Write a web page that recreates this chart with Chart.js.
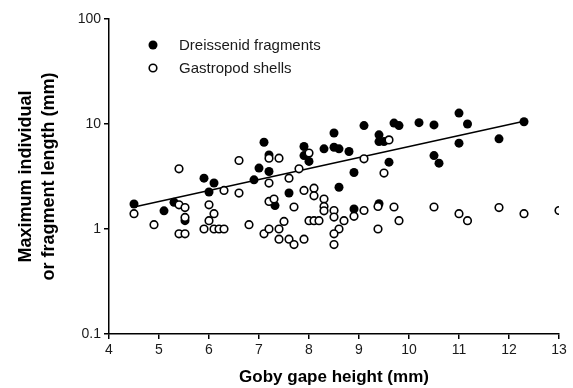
<!DOCTYPE html>
<html>
<head>
<meta charset="utf-8">
<script src="https://cdn.jsdelivr.net/npm/chart.js@4"></script>
<style>
    html, body { margin: 0; padding: 0; background: #fff; }
    #wrap { width: 573px; height: 388px; }
</style>
</head>
<body>
<div id="wrap"><canvas id="goby-chart" width="573" height="388"></canvas></div>
<script>
// Goby gape height (mm) vs max fragment length (mm)
const dreissenidX = [4.5, 5.1, 5.3, 5.52, 5.9, 6.1, 6.0, 7.1, 7.2, 7.0, 7.2, 6.9, 7.32, 7.6, 7.9, 7.9, 8.0, 8.3, 8.5, 8.5, 8.6, 8.8, 9.1, 9.4, 9.4, 8.9, 8.6, 8.9, 9.4, 9.5, 9.7, 9.8, 10.2, 10.5, 11.0, 11.17, 11.0, 10.5, 10.6, 9.6, 11.8, 12.3];
const dreissenidY = [1.73, 1.49, 1.8, 1.2, 3.05, 2.74, 2.25, 6.7, 5.08, 3.8, 3.53, 2.94, 1.67, 2.2, 6.1, 5.0, 4.4, 5.8, 8.2, 6.0, 5.8, 5.47, 9.66, 7.88, 6.8, 3.45, 2.5, 1.55, 1.74, 6.8, 10.2, 9.66, 10.3, 9.8, 12.7, 10.0, 6.57, 5.0, 4.24, 4.33, 7.22, 10.5];

const gastropodX = [4.5, 4.9, 5.4, 5.4, 5.52, 5.52, 5.4, 5.52, 6.6, 7.2, 7.4, 6.3, 6.6, 7.2, 6.0, 6.1, 6.0, 5.9, 6.1, 6.2, 6.3, 6.8, 7.2, 7.3, 7.1, 7.2, 7.4, 7.4, 7.5, 7.6, 7.6, 7.8, 8.0, 9.1, 7.9, 8.1, 8.1, 7.7, 8.3, 8.3, 8.3, 8.5, 8.5, 9.1, 8.9, 8.7, 8.0, 8.1, 8.2, 8.6, 8.5, 7.9, 7.7, 8.5, 9.38, 9.38, 9.6, 9.5, 9.7, 10.5, 11.0, 11.17, 9.8, 11.8, 12.3, 13.0];
const gastropodY = [1.4, 1.1, 3.74, 1.7, 1.6, 1.29, 0.9, 0.9, 4.49, 4.73, 4.73, 2.33, 2.2, 2.74, 1.7, 1.4, 1.2, 1.0, 1.0, 1.0, 1.0, 1.1, 1.83, 1.93, 0.9, 1.0, 1.0, 0.8, 1.18, 3.05, 0.8, 3.74, 5.28, 4.66, 2.33, 2.45, 2.07, 1.62, 1.93, 1.64, 1.49, 1.5, 1.3, 1.5, 1.32, 1.2, 1.2, 1.2, 1.2, 1.0, 0.9, 0.8, 0.71, 0.71, 1.0, 1.64, 7.06, 3.41, 1.62, 1.62, 1.4, 1.2, 1.2, 1.6, 1.4, 1.5];

// regression line end points (dreissenid)
const fitX = [4.5, 12.3];
const fitY = [1.62, 10.6];

const xTicks = [4, 5, 6, 7, 8, 9, 10, 11, 12, 13];
const yTicks = [0.1, 1, 10, 100];
const seriesNames = ["Dreissenid fragments", "Gastropod shells"];

function toPoints(xs, ys) {
    return xs.map((x, i) => ({ x: x, y: ys[i] }));
}

const fontFamily = "'Liberation Sans', Arial, Helvetica, sans-serif";

// simple legend in the top-left of the plot area
const insideLegend = {
    id: "insideLegend",
    afterDraw(chart) {
        const ctx = chart.ctx;
        const area = chart.chartArea;
        const dotX = area.left + 44;
        const textX = area.left + 70;
        const rows = [area.top + 26, area.top + 49];
        ctx.save();
        ctx.font = "15px " + fontFamily;
        ctx.textBaseline = "middle";
        seriesNames.forEach((name, i) => {
            ctx.beginPath();
            if (i === 0) {
                ctx.arc(dotX, rows[i], 4.5, 0, Math.PI * 2);
                ctx.fillStyle = "#000";
                ctx.fill();
            } else {
                ctx.arc(dotX, rows[i], 3.8, 0, Math.PI * 2);
                ctx.fillStyle = "#fff";
                ctx.fill();
                ctx.lineWidth = 1.6;
                ctx.strokeStyle = "#000";
                ctx.stroke();
            }
            ctx.fillStyle = "#1a1a1a";
            ctx.fillText(name, textX, rows[i] + 1);
        });
        ctx.restore();
    }
};

const ctx = document.getElementById("goby-chart").getContext("2d");
const gobyChart = new Chart(ctx, {
    type: "scatter",
    data: {
        datasets: [
            {
                label: seriesNames[1],
                data: toPoints(gastropodX, gastropodY),
                pointRadius: 3.8,
                pointBorderWidth: 1.6,
                pointBackgroundColor: "#fff",
                pointBorderColor: "#000",
                order: 0
            },
            {
                label: seriesNames[0],
                data: toPoints(dreissenidX, dreissenidY),
                pointRadius: 4.5,
                pointBorderWidth: 0,
                pointBackgroundColor: "#000",
                pointBorderColor: "#000",
                order: 1
            },
            {
                label: "fit",
                type: "line",
                data: toPoints(fitX, fitY),
                showLine: true,
                pointRadius: 0,
                borderColor: "#000",
                borderWidth: 1.5,
                order: 2
            }
        ]
    },
    options: {
        responsive: false,
        animation: false,
        layout: { padding: { top: 19, right: 14, left: 0, bottom: 0 } },
        plugins: {
            legend: { display: false },
            tooltip: { enabled: false }
        },
        scales: {
            x: {
                type: "linear",
                min: 4,
                max: 13,
                afterBuildTicks: (scale) => { scale.ticks = xTicks.map(v => ({ value: v })); },
                afterFit: (scale) => { scale.height = 54; },
                border: { display: true, color: "#000", width: 1.5 },
                grid: { drawOnChartArea: false, drawTicks: true, tickLength: 5, color: "#000", lineWidth: 1.5 },
                ticks: {
                    color: "#1a1a1a",
                    padding: 3,
                    font: { family: fontFamily, size: 14 }
                },
                title: {
                    display: true,
                    text: "Goby gape height (mm)",
                    color: "#000",
                    padding: { top: 2, bottom: 0 },
                    font: { family: fontFamily, size: 17, weight: "bold" }
                }
            },
            y: {
                type: "logarithmic",
                min: 0.1,
                max: 100,
                afterBuildTicks: (scale) => { scale.ticks = yTicks.map(v => ({ value: v })); },
                afterFit: (scale) => { scale.width = 109; },
                border: { display: true, color: "#000", width: 1.5 },
                grid: { drawOnChartArea: false, drawTicks: true, tickLength: 5, color: "#000", lineWidth: 1.5 },
                ticks: {
                    color: "#1a1a1a",
                    padding: 3,
                    font: { family: fontFamily, size: 14 },
                    callback: (value) => String(value)
                },
                title: {
                    display: true,
                    text: ["Maximum individual", "or fragment length (mm)"],
                    color: "#000",
                    padding: { top: 14, bottom: 0 },
                    font: { family: fontFamily, size: 18, weight: "bold", lineHeight: 1.3 }
                }
            }
        }
    },
    plugins: [insideLegend]
});
</script>
</body>
</html>
